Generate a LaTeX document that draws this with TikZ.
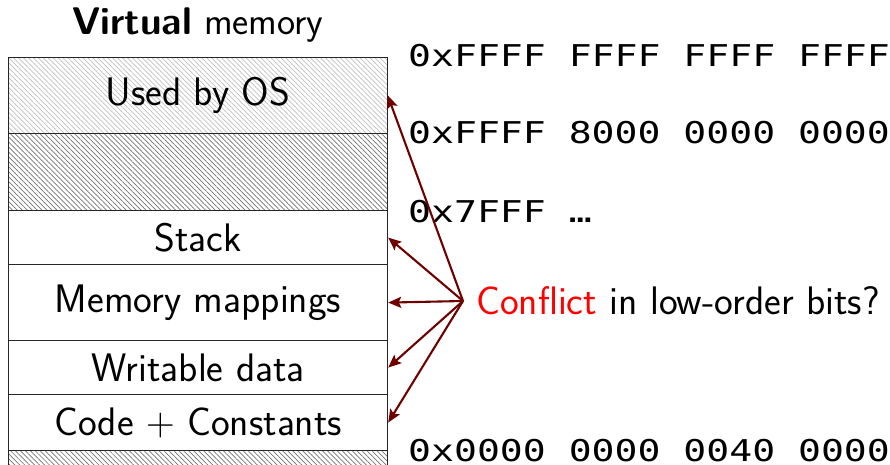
\documentclass[tikz,border=0pt]{standalone}
\usepackage{fontspec}
\usetikzlibrary{patterns.meta,arrows.meta}
\renewcommand\familydefault{\sfdefault}
\newfontfamily\addrfont[FakeStretch=1.27]{DejaVu Sans Mono}
\definecolor{arrowred}{RGB}{110,0,0}
\begin{document}
\begin{tikzpicture}[x=1pt,y=-1pt,
  bigtext/.style={font=\fontsize{39.8}{46}\selectfont},
  region/.style={draw=black!85, line width=1.2pt, minimum width=379pt,
    inner sep=0pt, anchor=north west, bigtext},
  oshatch/.style={pattern={Lines[angle=-45,distance=3.5pt,line width=0.7pt]},
    pattern color=black!25},
  darkhatch/.style={pattern={Lines[angle=-45,distance=3.5pt,line width=0.7pt]},
    pattern color=black!55},
  addr/.style={anchor=base west, inner sep=0pt, text depth=0pt,
    font=\addrfont\fontsize{30}{36}\selectfont},
  conn/.style={draw=arrowred, line width=2.1pt,
    -{Stealth[length=13pt,width=11pt,inset=2.5pt]}}]
\useasboundingbox (0,0) rectangle (890,465);

% title
\node[font=\fontsize{38.5}{46}\selectfont, anchor=base] (title) at (198,35)
  {\textbf{Virtual} memory};

% address space layout, top to bottom
\begin{scope}
\clip (0,0) rectangle (890,465);
\node[region, oshatch, minimum height=76pt] (os) at (8,57) {Used by OS};
\node[region, darkhatch, minimum height=77pt] (hole) at (8,133) {};
\node[region, minimum height=54pt] (stack) at (8,210) {Stack};
\node[region, minimum height=76pt] (mmap) at (8,264) {Memory mappings};
\node[region, minimum height=54pt] (data) at (8,340) {Writable data};
\node[region, minimum height=56pt] (code) at (8,394) {Code {\rmfamily +} Constants};
\node[region, darkhatch, minimum height=30pt] (low) at (8,450) {};
\end{scope}

% addresses at the region boundaries
\node[addr] (a1) at (408,67) {0xFFFF FFFF FFFF FFFF};
\node[addr] (a2) at (408,143) {0xFFFF 8000 0000 0000};
\node[addr] (a3) at (408,222) {0x7FFF …};
\node[addr] (a4) at (408,461) {0x0000 0000 0040 0000};

% conflict note and its arrows
\node[bigtext, anchor=west, inner xsep=13pt, inner ysep=0pt] (conf) at (463,301)
  {\textcolor{red}{Conflict} in low-order bits?};
\foreach \t in {os,stack,mmap,data,code}
  \draw[conn] (conf.west) -- (\t.east);
\end{tikzpicture}
\end{document}
